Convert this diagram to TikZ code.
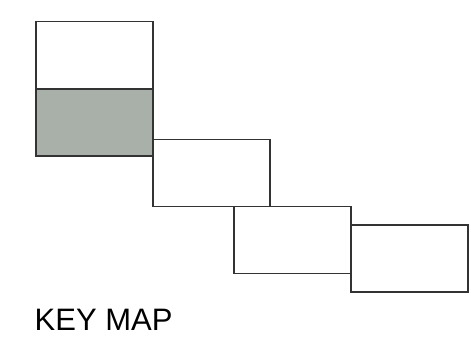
\documentclass[tikz,border=0pt]{standalone}
\usepackage{fontspec}
\setmainfont{Liberation Sans}
\definecolor{sheetgray}{HTML}{A9AFA9}
\definecolor{edge}{HTML}{333333}
\tikzset{
  sheet/.style={draw=edge,line width=1.6pt,fill=white,minimum width=117pt,minimum height=67pt,inner sep=0pt},
  current/.style={sheet,fill=sheetgray}
}
\begin{document}
\begin{tikzpicture}[x=1pt,y=-1pt]
	\useasboundingbox (0,0) rectangle (471,338);
	% key map sheets
	\node[sheet] (top) at (94.5,55) {};
	\node[current] (here) at (94.5,122.3) {};
	\node[sheet] (mid) at (211.7,172.8) {};
	\node[sheet] (low) at (292.5,240) {};
	\node[sheet] (end) at (409.3,258.2) {};

	\node[anchor=base west,inner sep=0pt,font=\fontsize{31}{36}\selectfont] (title) at (34.5,330.5) {KEY MAP};
\end{tikzpicture}
\end{document}
